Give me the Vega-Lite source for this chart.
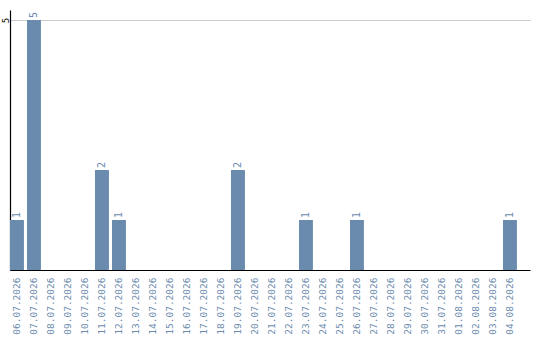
{
  "$schema": "https://vega.github.io/schema/vega-lite/v6.json",
  "width": 520,
  "height": 260,
  "autosize": "none",
  "padding": {"left": 10, "top": 10, "right": 10, "bottom": 70},
  "background": "white",
  "data": {
    "values": [
      {"date": "06.07.2026", "count": 1},
      {"date": "07.07.2026", "count": 5},
      {"date": "08.07.2026", "count": 0},
      {"date": "09.07.2026", "count": 0},
      {"date": "10.07.2026", "count": 0},
      {"date": "11.07.2026", "count": 2},
      {"date": "12.07.2026", "count": 1},
      {"date": "13.07.2026", "count": 0},
      {"date": "14.07.2026", "count": 0},
      {"date": "15.07.2026", "count": 0},
      {"date": "16.07.2026", "count": 0},
      {"date": "17.07.2026", "count": 0},
      {"date": "18.07.2026", "count": 0},
      {"date": "19.07.2026", "count": 2},
      {"date": "20.07.2026", "count": 0},
      {"date": "21.07.2026", "count": 0},
      {"date": "22.07.2026", "count": 0},
      {"date": "23.07.2026", "count": 1},
      {"date": "24.07.2026", "count": 0},
      {"date": "25.07.2026", "count": 0},
      {"date": "26.07.2026", "count": 1},
      {"date": "27.07.2026", "count": 0},
      {"date": "28.07.2026", "count": 0},
      {"date": "29.07.2026", "count": 0},
      {"date": "30.07.2026", "count": 0},
      {"date": "31.07.2026", "count": 0},
      {"date": "01.08.2026", "count": 0},
      {"date": "02.08.2026", "count": 0},
      {"date": "03.08.2026", "count": 0},
      {"date": "04.08.2026", "count": 1}
    ]
  },
  "config": {
    "view": {"stroke": null},
    "font": "DejaVu Sans Mono"
  },
  "encoding": {
    "x": {
      "field": "date",
      "type": "ordinal",
      "sort": null,
      "scale": {"paddingInner": 0.18, "paddingOuter": 0.385, "align": 0},
      "axis": {
        "title": null,
        "labelAngle": -90,
        "labelAlign": "right",
        "labelBaseline": "middle",
        "labelColor": "#6b8bae",
        "labelFont": "DejaVu Sans Mono",
        "labelFontSize": 9.5,
        "labelPadding": 7,
        "ticks": false,
        "domainColor": "#000000",
        "domainWidth": 1.2
      }
    },
    "y": {
      "field": "count",
      "type": "quantitative",
      "scale": {"domain": [0, 5.2], "nice": false},
      "axis": {
        "title": null,
        "values": [5],
        "grid": true,
        "gridColor": "#cccccc",
        "ticks": false,
        "domainColor": "#000000",
        "domainWidth": 1.2,
        "labelAngle": -90,
        "labelAlign": "center",
        "labelBaseline": "middle",
        "labelColor": "#000000",
        "labelFont": "DejaVu Sans Mono",
        "labelFontSize": 9,
        "labelPadding": 5
      }
    }
  },
  "layer": [
    {"mark": {"type": "bar", "color": "#6b8bae"}},
    {
      "transform": [{"filter": "datum.count > 0"}],
      "mark": {
        "type": "text",
        "angle": -90,
        "align": "left",
        "baseline": "middle",
        "dx": 2,
        "color": "#6b8bae",
        "font": "DejaVu Sans Mono",
        "fontSize": 10
      },
      "encoding": {"text": {"field": "count", "type": "quantitative"}}
    }
  ]
}
